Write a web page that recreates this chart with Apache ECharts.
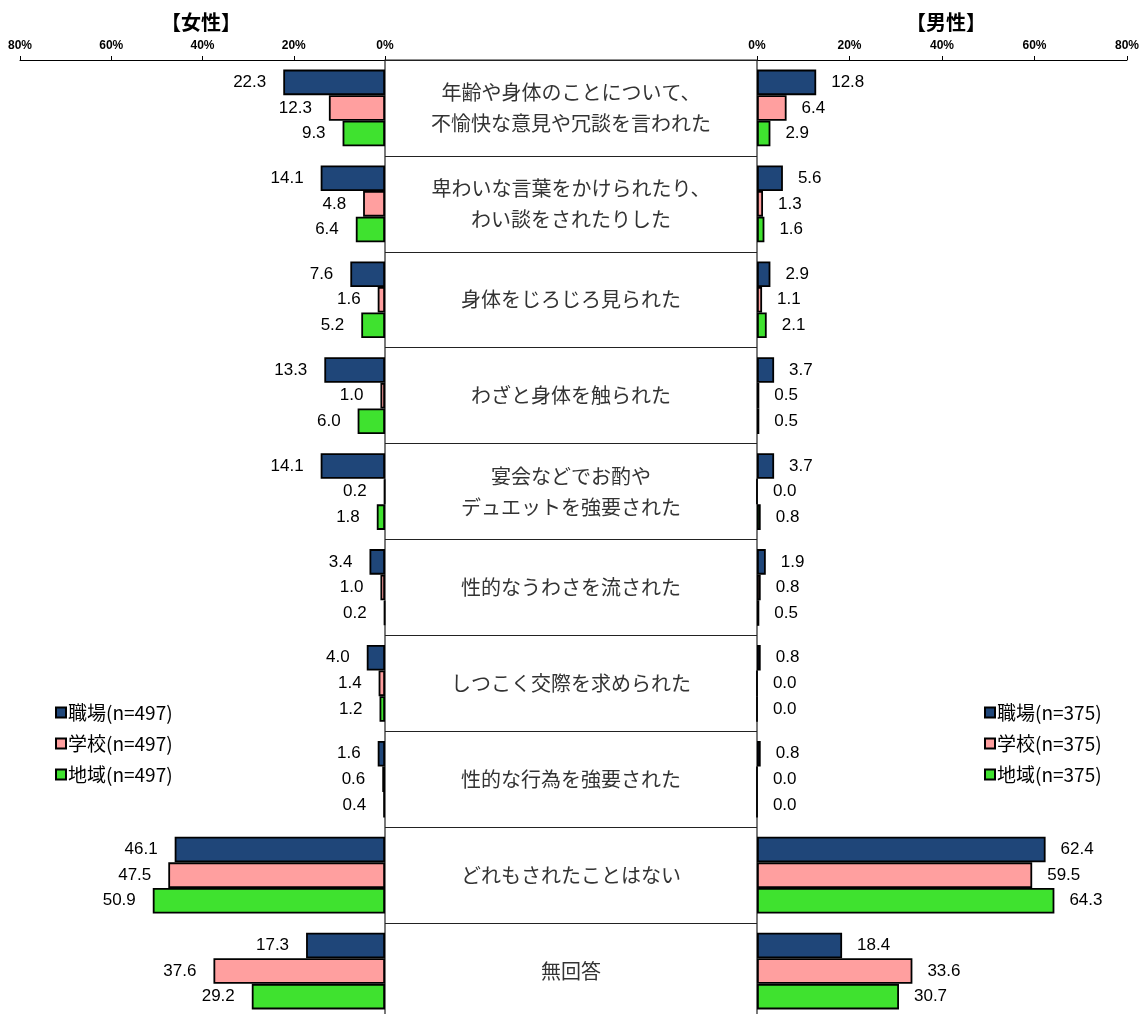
<!DOCTYPE html>
<html>
<head>
<meta charset="utf-8">
<script src="https://cdn.jsdelivr.net/npm/echarts@6/dist/echarts.min.js"></script>
<style>
  html, body { margin: 0; padding: 0; background: #fff; overflow: hidden; }
  /* the drawing surface is a few pixels taller than the window; the last row is cut off */
  #chart { width: 1143px; height: 1020px; }
</style>
</head>
<body>
<div id="chart"></div>
<script>
// Experience categories (shown in the centre column)
const categories = [
  '年齢や身体のことについて、\n不愉快な意見や冗談を言われた',
  '卑わいな言葉をかけられたり、\nわい談をされたりした',
  '身体をじろじろ見られた',
  'わざと身体を触られた',
  '宴会などでお酌や\nデュエットを強要された',
  '性的なうわさを流された',
  'しつこく交際を求められた',
  '性的な行為を強要された',
  'どれもされたことはない',
  '無回答'
];

// Women (%)
const femaleWork   = [22.3, 14.1, 7.6, 13.3, 14.1, 3.4, 4.0, 1.6, 46.1, 17.3];
const femaleSchool = [12.3, 4.8, 1.6, 1.0, 0.2, 1.0, 1.4, 0.6, 47.5, 37.6];
const femaleLocal  = [9.3, 6.4, 5.2, 6.0, 1.8, 0.2, 1.2, 0.4, 50.9, 29.2];

// Men (%)
const maleWork   = [12.8, 5.6, 2.9, 3.7, 3.7, 1.9, 0.8, 0.8, 62.4, 18.4];
const maleSchool = [6.4, 1.3, 1.1, 0.5, 0.0, 0.8, 0.0, 0.0, 59.5, 33.6];
const maleLocal  = [2.9, 1.6, 2.1, 0.5, 0.8, 0.5, 0.0, 0.0, 64.3, 30.7];

const femaleNames = ['職場(n=497)', '学校(n=497)', '地域(n=497)'];
const maleNames   = ['職場(n=375)', '学校(n=375)', '地域(n=375)'];

const colors = ['#1F4679', '#FF9F9F', '#3FE22F'];

const numFont = '"Liberation Sans", Arial, sans-serif';
const jpFont = '"Noto Sans CJK JP", sans-serif';

const gridTop = 60;
const gridHeight = 959;

function valueAxis(gridIndex, inverse) {
  return {
    type: 'value', gridIndex: gridIndex, min: 0, max: 80, interval: 20,
    inverse: inverse, position: 'top',
    axisLine: { show: true, lineStyle: { color: '#000', width: 1 } },
    axisTick: { show: true, length: 4, lineStyle: { color: '#000' } },
    axisLabel: { formatter: '{value}%', color: '#000', fontSize: 12, fontFamily: numFont, fontWeight: 'bold', margin: 8 },
    splitLine: { show: false }
  };
}

function catAxis(gridIndex) {
  return {
    type: 'category', gridIndex: gridIndex, data: categories, inverse: true,
    axisLine: { show: false }, axisTick: { show: false }, axisLabel: { show: false },
    splitLine: { show: false }
  };
}

function barSeries(name, data, idx, gridIndex, side) {
  return {
    type: 'bar', name: name, data: data,
    xAxisIndex: gridIndex, yAxisIndex: gridIndex,
    barGap: '0%', barCategoryGap: '20%',
    itemStyle: { color: colors[idx], borderColor: '#000', borderWidth: 1.8 },
    label: {
      show: true, position: side, distance: side === 'left' ? 17 : 15,
      formatter: (p) => p.value.toFixed(1),
      color: '#000', fontSize: 17, fontFamily: numFont
    },
    emphasis: { disabled: true },
    z: 3
  };
}

const chart = echarts.init(document.getElementById('chart'), null, { renderer: 'canvas' });

const legendText = { fontSize: 19, fontFamily: jpFont, color: '#000', padding: [0, 0, 0, -3] };

chart.setOption({
  animation: false,
  backgroundColor: '#fff',
  title: [
    { text: '【女性】', left: 196, top: 7, textAlign: 'center',
      textStyle: { fontSize: 20, fontWeight: 'bold', fontFamily: jpFont, color: '#000' } },
    { text: '【男性】', left: 941, top: 7, textAlign: 'center',
      textStyle: { fontSize: 20, fontWeight: 'bold', fontFamily: jpFont, color: '#000' } }
  ],
  legend: [
    { data: femaleNames, orient: 'vertical', left: 50, top: 698, itemWidth: 10, itemHeight: 10,
      itemGap: 12, icon: 'rect', textStyle: legendText },
    { data: maleNames, orient: 'vertical', left: 979, top: 698, itemWidth: 10, itemHeight: 10,
      itemGap: 12, icon: 'rect', textStyle: legendText }
  ],
  grid: [
    { left: 20, width: 365, top: gridTop, height: gridHeight },
    { left: 757, width: 370, top: gridTop, height: gridHeight },
    { left: 385, width: 372, top: gridTop, height: gridHeight, show: true,
      borderColor: '#222', borderWidth: 1.2, backgroundColor: '#fff', z: 1 }
  ],
  xAxis: [
    valueAxis(0, true),
    valueAxis(1, false),
    { type: 'value', gridIndex: 2, min: 0, max: 1, show: false }
  ],
  yAxis: [
    catAxis(0),
    catAxis(1),
    {
      type: 'category', gridIndex: 2, data: categories, inverse: true, position: 'left',
      axisLine: { show: false }, axisTick: { show: false },
      splitLine: { show: true, lineStyle: { color: '#222', width: 1.2 } },
      axisLabel: {
        show: true, inside: false, align: 'center', margin: -186,
        fontSize: 20, lineHeight: 31, color: '#333', fontFamily: jpFont
      },
      z: 2
    }
  ],
  series: [
    barSeries(femaleNames[0], femaleWork, 0, 0, 'left'),
    barSeries(femaleNames[1], femaleSchool, 1, 0, 'left'),
    barSeries(femaleNames[2], femaleLocal, 2, 0, 'left'),
    barSeries(maleNames[0], maleWork, 0, 1, 'right'),
    barSeries(maleNames[1], maleSchool, 1, 1, 'right'),
    barSeries(maleNames[2], maleLocal, 2, 1, 'right')
  ]
});
</script>
</body>
</html>
